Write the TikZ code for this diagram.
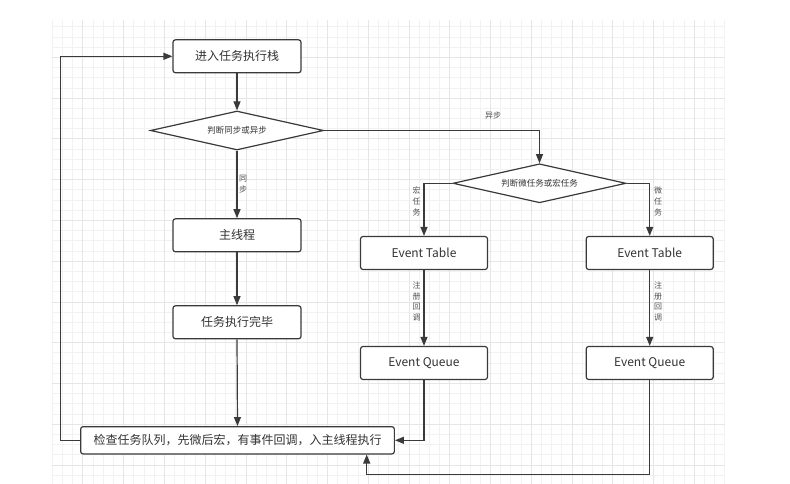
\documentclass[tikz,border=0pt]{standalone}
\usepackage{fontspec}
\setmainfont{Noto Sans CJK SC}
\usetikzlibrary{arrows.meta,shapes.geometric}
\definecolor{ln}{HTML}{3A3A3A}
\definecolor{tx}{HTML}{333333}
\definecolor{lbl}{HTML}{505050}
\definecolor{gmin}{HTML}{F2F2F2}
\definecolor{gmaj}{HTML}{E6E6E6}
\tikzset{
  box/.style={draw=ln, line width=1.2pt, rounded corners=2.5pt, fill=white,
    minimum width=127pt, minimum height=33pt, inner sep=0pt, text=tx,
    font=\fontsize{12}{14}\selectfont},
  dia/.style={diamond, draw=ln, line width=1.2pt, fill=white, shape aspect=4.4,
    inner sep=0pt, minimum width=173pt, minimum height=39pt, text=tx,
    font=\fontsize{8.5}{10}\selectfont},
  conn/.style={draw=ln, line width=1.2pt, -{Triangle[length=9pt,width=7pt]}},
  plain/.style={draw=ln, line width=1.2pt},
  elbl/.style={text=lbl, font=\fontsize{8}{10.8}\selectfont, align=center, inner sep=0pt},
  gridminor/.style={draw=gmin, line width=0.8pt},
  gridmajor/.style={draw=gmaj, line width=0.8pt}
}
\begin{document}
\begin{tikzpicture}[x=1pt,y=-1pt]
\useasboundingbox (0,0) rectangle (790,484);
\fill[white] (0,0) rectangle (790,484);
% grid
\foreach \i in {0,...,66} \draw[gridminor] ({52.3+\i*10.19},20) -- ({52.3+\i*10.19},484);
\foreach \k in {0,...,45} \draw[gridminor] (52.3,{26.8+\k*10.19}) -- (725,{26.8+\k*10.19});
\foreach \i in {3,7,...,63} \draw[gridmajor] ({52.3+\i*10.19},20) -- ({52.3+\i*10.19},484);
\foreach \k in {3,7,...,43} \draw[gridmajor] (52.3,{26.8+\k*10.19}) -- (725,{26.8+\k*10.19});

% nodes
\node[box, minimum width=128pt] (n1) at (237,56.3) {进入任务执行栈};
\node[dia] (d1) at (237,130.5) {判断同步或异步};
\node[box, minimum width=128pt] (main) at (237,235.3) {主线程};
\node[box, minimum width=128pt] (done) at (237,322.3) {任务执行完毕};
\node[dia] (d2) at (539.5,183.3) {判断微任务或宏任务};
\node[box] (et1) at (424,253) {Event Table};
\node[box] (et2) at (649.7,253) {Event Table};
\node[box] (eq1) at (424,363) {Event Queue};
\node[box] (eq2) at (649.7,363) {Event Queue};
\node[box, minimum width=313.7pt, minimum height=27.3pt] (chk) at (237.5,440.3) {检查任务队列，先微后宏，有事件回调，入主线程执行};

% coordinates
\coordinate (lp) at (60.3,250);
\coordinate (b1) at (649.7,474.3);
\coordinate (b2) at (366.7,474.3);

% connectors
\draw[conn] (n1.south) -- (d1.north);
\draw[conn] (d1.east) -| (d2.north);
\draw[conn] (d1.south) -- (main.north);
\draw[conn] (main.south) -- (done.north);
\draw[conn] (done.south) -- (chk.north);
\draw[conn] (d2.west) -| (et1.north);
\draw[conn] (d2.east) -| (et2.north);
\draw[conn] (et1.south) -- (eq1.north);
\draw[conn] (et2.south) -- (eq2.north);
\draw[conn] (eq1.south) |- (chk.east);
\draw[conn] (eq2.south) -- (b1) -- (b2) -- (b2 |- chk.south);
\draw[conn] (chk.west) -| (lp) |- (n1.west);

% labels
\node[elbl] (l1) at (493,115.7) {异步};
\node[elbl] (l2) at (243,184.5) {同\\步};
\node[elbl] (l3) at (416.7,201.3) {宏\\任\\务};
\node[elbl] (l4) at (658,201.3) {微\\任\\务};
\node[elbl] (l5) at (416.7,301.5) {注\\册\\回\\调};
\node[elbl] (l6) at (658,301.5) {注\\册\\回\\调};
\end{tikzpicture}
\end{document}
